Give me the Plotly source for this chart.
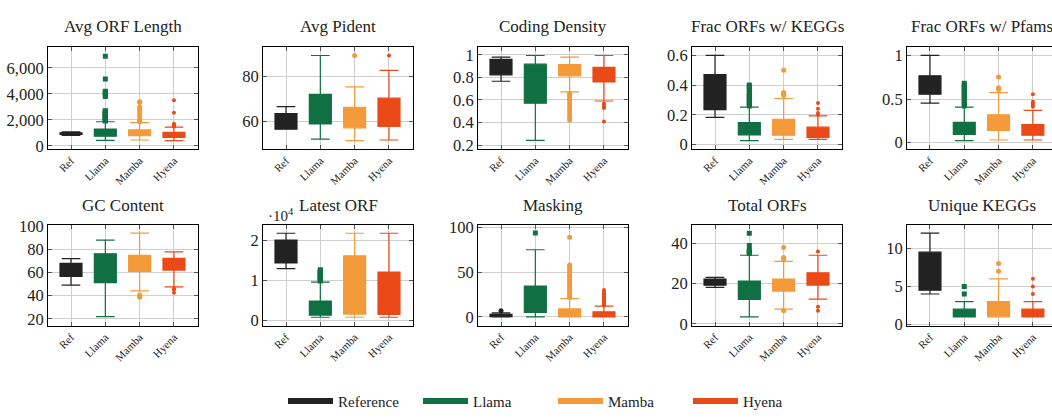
import plotly.graph_objects as go

# ---------------- data ----------------
MODELS = ["Reference", "Llama", "Mamba", "Hyena"]
CATS = ["Ref", "Llama", "Mamba", "Hyena"]
TITLES = ["Avg ORF Length", "Avg Pident", "Coding Density", "Frac ORFs w/ KEGGs",
          "Frac ORFs w/ Pfams", "GC Content", "Latest ORF", "Masking",
          "Total ORFs", "Unique KEGGs"]

# each row: one metric, values for [Ref, Llama, Mamba, Hyena]
LOWER = [
    [800, 420, 445, 395],
    [56.7, 52.3, 51.6, 51.9],
    [0.766, 0.243, 0.671, 0.591],
    [0.183, 0.026, 0.035, 0.035],
    [0.452, 0.022, 0.03, 0.03],
    [49, 21.9, 44.1, 47.4],
    [12900, 800, 800, 800],
    [0, 0, 0, 0],
    [18.2, 3.5, 7.4, 12.3],
    [4, 1, 1, 1],
]
Q1 = [
    [870, 740, 790, 640],
    [56.7, 59.0, 57.3, 57.9],
    [0.823, 0.571, 0.814, 0.76],
    [0.235, 0.065, 0.063, 0.048],
    [0.556, 0.093, 0.141, 0.085],
    [56.4, 51.2, 60.8, 61.9],
    [14300, 1350, 1590, 1510],
    [0.3, 5, 0, 0],
    [19.2, 12.2, 16.3, 19.3],
    [4.5, 1, 1, 1],
]
MEDIAN = [
    [930, 950, 1000, 820],
    [59, 65, 61, 63],
    [0.9, 0.78, 0.87, 0.83],
    [0.33, 0.1, 0.1, 0.08],
    [0.66, 0.15, 0.22, 0.14],
    [62, 64, 68, 67],
    [17000, 2500, 7000, 5000],
    [1, 15, 3, 2],
    [20.5, 17, 19.5, 22],
    [6, 1, 2, 1],
]
Q3 = [
    [1000, 1284, 1235, 1040],
    [63.6, 72.1, 66.4, 70.4],
    [0.96, 0.917, 0.914, 0.889],
    [0.47, 0.148, 0.17, 0.117],
    [0.767, 0.233, 0.319, 0.207],
    [67.7, 75.9, 74.5, 72.0],
    [20000, 4840, 16100, 12060],
    [2.8, 34.5, 9.0, 5.7],
    [22.3, 21.3, 22.3, 25.4],
    [9.5, 2, 3, 2],
]
UPPER = [
    [1080, 1850, 1780, 1430],
    [66.7, 89.3, 75.4, 82.7],
    [0.98, 0.994, 0.98, 0.994],
    [0.6, 0.252, 0.31, 0.193],
    [1.0, 0.407, 0.574, 0.37],
    [71.8, 87.6, 93.6, 77.5],
    [21700, 9520, 21700, 21700],
    [4.5, 75, 20.5, 12],
    [23.1, 34.1, 31.1, 34.1],
    [12, 3, 6, 3],
]

OUT_REF = [[], [], [], [], [], [], [], [7], [], []]
OUT_LLAMA = [
    [1900, 1950, 2000, 2050, 2100, 2150, 2200, 2250, 2300, 2350, 2400, 2450,
     2500, 2550, 2600, 2650, 2700, 3800, 3900, 4050, 4150, 4200, 5150, 6900],
    [],
    [],
    [0.26, 0.27, 0.28, 0.29, 0.30, 0.31, 0.32, 0.33, 0.34, 0.35, 0.37, 0.38, 0.39, 0.40],
    [0.42, 0.44, 0.46, 0.48, 0.50, 0.52, 0.54, 0.56, 0.58, 0.60, 0.62, 0.64, 0.66, 0.68],
    [],
    [9800, 10000, 10200, 10400, 10600, 10800, 11000, 11200, 11400, 11600,
     11800, 12000, 12200, 12400, 12600],
    [93.6],
    [35, 35.5, 36, 36.5, 39, 45],
    [4, 5],
]
OUT_MAMBA = [
    [1850, 1950, 2050, 2300, 2500, 2700, 2900, 3000, 3350, 3400],
    [89.3],
    [0.657, 0.637, 0.623, 0.609, 0.594, 0.566, 0.537, 0.514, 0.494, 0.466, 0.443, 0.423],
    [0.33, 0.34, 0.35, 0.5],
    [0.61, 0.63, 0.752],
    [40.5, 39.5, 38.5],
    [],
    [22, 24, 26, 28, 30, 32, 34, 36, 38, 40, 42, 44, 46, 48, 50, 52, 54, 56, 58, 89],
    [6.5, 32, 33, 38],
    [7, 8],
]
OUT_HYENA = [
    [1480, 1550, 1620, 1700, 2550, 3500],
    [89.3],
    [0.57, 0.555, 0.54, 0.53, 0.41],
    [0.2, 0.213, 0.241, 0.28],
    [0.41, 0.43, 0.45, 0.47, 0.555],
    [46, 45, 42.5],
    [],
    [13, 14.5, 16, 17.5, 19, 20.5, 22, 23.5, 25, 26.5, 28, 30],
    [36, 8.5, 6.5],
    [4, 5, 6],
]
OUTLIERS = [OUT_REF, OUT_LLAMA, OUT_MAMBA, OUT_HYENA]

YTICKS = [
    [0, 2000, 4000, 6000],
    [60, 80],
    [0.2, 0.4, 0.6, 0.8, 1],
    [0, 0.2, 0.4, 0.6],
    [0, 0.5, 1],
    [20, 40, 60, 80, 100],
    [0, 10000, 20000],
    [0, 50, 100],
    [0, 20, 40],
    [0, 5, 10],
]
YTICKTEXT = [
    ["0", "2,000", "4,000", "6,000"],
    ["60", "80"],
    ["0.2", "0.4", "0.6", "0.8", "1"],
    ["0", "0.2", "0.4", "0.6"],
    ["0", "0.5", "1"],
    ["20", "40", "60", "80", "100"],
    ["0", "1", "2"],
    ["0", "50", "100"],
    ["0", "20", "40"],
    ["0", "5", "10"],
]

# ---------------- style / layout ----------------
COLORS = ["#222222", "#107044", "#f39a3a", "#ea4a17"]
SYMBOLS = ["circle", "square", "circle", "circle"]
MSIZE = [5, 5, 5, 4]
YRANGES = [
    [-250, 7580], [47.9, 92.9], [0.166, 1.066], [-0.03, 0.654], [-0.074, 1.093],
    [14.2, 100.8], [-1270, 23800], [-9.6, 102.8], [-0.8, 49.2], [-0.15, 13.1],
]
W, H = 1052, 419
LEFTS = [48, 263, 478, 692, 907]
PW = 150
ROWS = [(41, 147), (226, 331)]
TITLE_Y = [19, 206]
FONT = "Liberation Serif"
TXT = "#222222"

fig = go.Figure()
layout = dict(
    width=W, height=H, margin=dict(l=0, r=0, t=0, b=0),
    paper_bgcolor="white", plot_bgcolor="white",
    showlegend=True, boxmode="overlay",
    font=dict(family=FONT, color=TXT, size=14),
)
annotations = []

for i in range(10):
    r, c = divmod(i, 5)
    n = i + 1
    xa = "x" if n == 1 else f"x{n}"
    ya = "y" if n == 1 else f"y{n}"
    left = LEFTS[c]
    right = min(left + PW, W)
    top, bot = ROWS[r]
    last = (right - left) != PW
    xr_hi = 3.7 if not last else -0.67 + (right - left) / 34.3

    for m in range(4):
        fig.add_trace(go.Box(
            x=[CATS[m]], q1=[Q1[i][m]], median=[MEDIAN[i][m]], q3=[Q3[i][m]],
            lowerfence=[LOWER[i][m]], upperfence=[UPPER[i][m]],
            boxpoints=False, width=0.64, whiskerwidth=0.85,
            fillcolor=COLORS[m], line=dict(color=COLORS[m], width=1.2),
            xaxis=xa, yaxis=ya, showlegend=False, hoverinfo="skip",
        ))
        pts = OUTLIERS[m][i]
        if pts:
            fig.add_trace(go.Scatter(
                x=[CATS[m]] * len(pts), y=pts, mode="markers",
                marker=dict(symbol=SYMBOLS[m], size=MSIZE[m], color=COLORS[m],
                            line=dict(width=0)),
                xaxis=xa, yaxis=ya, showlegend=False, hoverinfo="skip",
            ))

    axis_common = dict(
        showline=True, linecolor="black", linewidth=1,
        ticks="inside", ticklen=4, tickcolor="#555555", tickwidth=1,
        showgrid=True, gridcolor="#cfcfcf", gridwidth=1, zeroline=False,
    )
    layout["xaxis" if n == 1 else f"xaxis{n}"] = dict(
        axis_common,
        domain=[left / W, right / W], anchor=ya,
        type="category", categoryorder="array", categoryarray=CATS,
        range=[-0.67, xr_hi], tickangle=-45,
        tickfont=dict(family=FONT, size=11, color=TXT),
        mirror="ticks",
    )
    layout["yaxis" if n == 1 else f"yaxis{n}"] = dict(
        axis_common,
        domain=[1 - bot / H, 1 - top / H], anchor=xa,
        range=YRANGES[i], tickvals=YTICKS[i], ticktext=YTICKTEXT[i],
        tickfont=dict(family=FONT, size=16.5, color=TXT),
        mirror=False if last else "ticks",
    )
    annotations.append(dict(
        text=TITLES[i], xref="paper", yref="paper",
        x=(left + (left + PW)) / 2 / W, y=1 - TITLE_Y[r] / H,
        xanchor="center", yanchor="middle", showarrow=False,
        font=dict(family=FONT, size=17, color=TXT),
    ))

annotations.append(dict(
    text="·10<sup>4</sup>", xref="paper", yref="paper",
    x=266 / W, y=1 - 216 / H, xanchor="left", yanchor="middle", showarrow=False,
    font=dict(family=FONT, size=15, color=TXT),
))

# legend entries
for m in range(4):
    fig.add_trace(go.Scatter(
        x=[None], y=[None], mode="lines", name=MODELS[m],
        line=dict(color=COLORS[m], width=6), xaxis="x", yaxis="y",
    ))

layout["annotations"] = annotations
layout["legend"] = dict(
    orientation="h", x=283 / W, xanchor="left", y=1 - 410 / H, yanchor="middle",
    font=dict(family=FONT, size=15, color=TXT),
    itemwidth=45, entrywidth=75, entrywidthmode="pixels", bgcolor="rgba(0,0,0,0)",
)
fig.update_layout(**layout)
fig.write_html("out.html")
